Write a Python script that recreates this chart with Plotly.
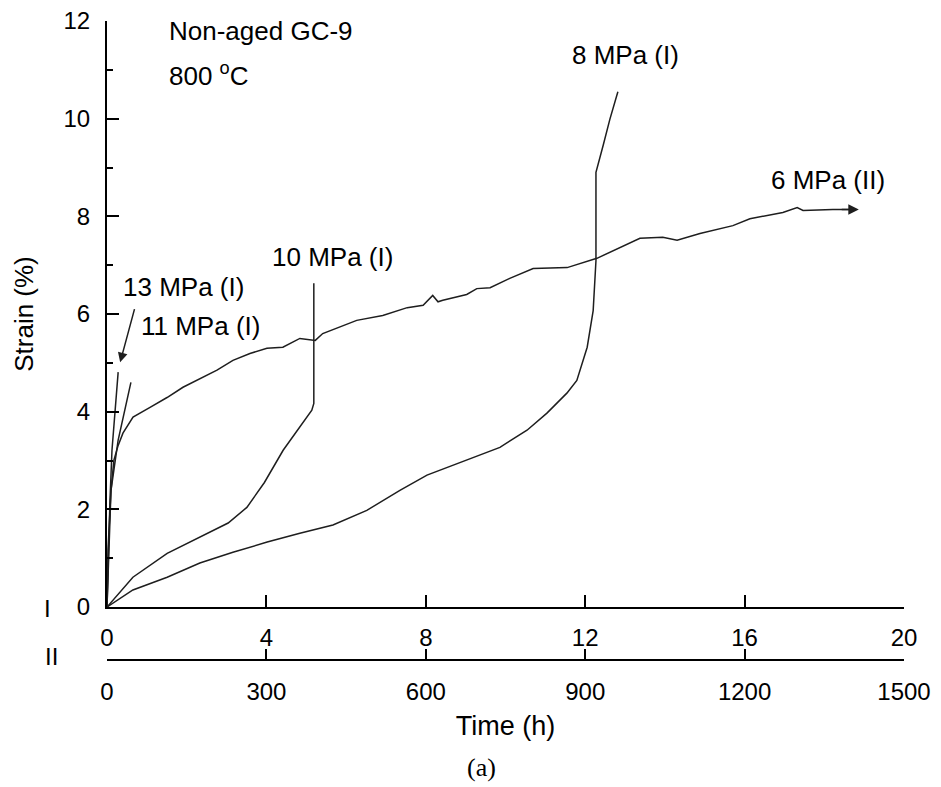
import plotly.graph_objects as go

# ---- data ----
# 6 MPa, time on scale II (h)
t6 = [0, 3.8, 7.5, 13, 21, 30, 49, 81, 113, 143, 175, 207, 237, 269, 301, 331, 363, 380, 392, 406,
      438, 470, 519, 565, 595, 613, 623, 632, 677, 696, 721, 758, 802, 866, 922, 960, 1003, 1046,
      1073, 1116, 1154, 1178, 1210, 1272, 1299, 1310, 1366, 1400]
s6 = [0, 1.37, 2.39, 3.01, 3.31, 3.56, 3.89, 4.09, 4.29, 4.50, 4.68, 4.85, 5.05, 5.19, 5.30, 5.32, 5.50, 5.47, 5.46, 5.60,
      5.73, 5.87, 5.97, 6.13, 6.18, 6.38, 6.25, 6.28, 6.40, 6.52, 6.54, 6.73, 6.93, 6.95, 7.14, 7.34, 7.55, 7.57,
      7.51, 7.65, 7.75, 7.81, 7.95, 8.08, 8.18, 8.12, 8.14, 8.14]

# 8 MPa, time on scale I (h)
t8 = [0, 0.65, 1.51, 2.33, 3.16, 4.02, 4.84, 5.67, 6.52, 7.35, 8.03, 9.03, 9.86, 10.54, 11.04, 11.54,
      11.79, 12.05, 12.20, 12.27, 12.27, 12.45, 12.62, 12.82]
s8 = [0, 0.35, 0.61, 0.90, 1.12, 1.33, 1.51, 1.68, 1.98, 2.39, 2.70, 3.01, 3.27, 3.62, 3.97, 4.38,
      4.64, 5.32, 6.07, 7.09, 8.90, 9.45, 9.99, 10.55]

# 10 MPa, scale I
t10 = [0, 0.65, 1.51, 2.33, 3.04, 3.51, 3.95, 4.42, 4.84, 5.14, 5.19, 5.19]
s10 = [0, 0.61, 1.10, 1.43, 1.72, 2.04, 2.55, 3.21, 3.68, 4.03, 4.17, 6.63]

# 11 MPa, scale I
t11 = [0, 0.025, 0.10, 0.20, 0.28, 0.60]
s11 = [0, 1.17, 2.39, 3.01, 3.42, 4.60]

# 13 MPa, scale I
t13 = [0, 0.025, 0.075, 0.125, 0.28]
s13 = [0, 0.96, 2.19, 3.21, 4.81]

ticks_I = [0, 4, 8, 12, 16, 20]
ticks_II = [0, 300, 600, 900, 1200, 1500]

FONT = "Liberation Sans, Arial, sans-serif"
LC = "#1e1e1e"

fig = go.Figure()
line = dict(color=LC, width=1.5)
fig.add_trace(go.Scatter(x=t6, y=s6, mode="lines", line=line, xaxis="x2", yaxis="y"))
for tx, sy in [(t8, s8), (t10, s10), (t11, s11), (t13, s13)]:
    fig.add_trace(go.Scatter(x=tx, y=sy, mode="lines", line=line, xaxis="x", yaxis="y"))

ann = []
def label(txt, x, y, size=26, xref="x", yref="y"):
    ann.append(dict(text=txt, x=x, y=y, xref=xref, yref=yref, showarrow=False,
                    xanchor="left", yanchor="middle", font=dict(family=FONT, size=size, color="black")))

label("Non-aged GC-9", 1.50, 11.80)
label("800 <sup>o</sup>C", 1.50, 10.90)
label("8 MPa (I)", 11.62, 11.30)
label("6 MPa (II)", 16.60, 8.75)
label("10 MPa (I)", 4.10, 7.16)
label("13 MPa (I)", 0.34, 6.56)
label("11 MPa (I)", 0.80, 5.75)

# arrows
ann.append(dict(x=0.33, y=5.01, ax=0.70, ay=6.13, xref="x", yref="y", axref="x", ayref="y",
                text="", showarrow=True, arrowhead=2, arrowsize=1.3, arrowwidth=1.5, arrowcolor=LC))
ann.append(dict(x=1415, y=8.14, ax=1380, ay=8.14, xref="x2", yref="y", axref="x2", ayref="y",
                text="", showarrow=True, arrowhead=2, arrowsize=1.4, arrowwidth=1.5, arrowcolor=LC))

# axis set labels
ann.append(dict(text="I", x=-0.075, y=0.081, xref="paper", yref="paper", showarrow=False,
                xanchor="center", yanchor="middle", font=dict(family=FONT, size=24, color="black")))
ann.append(dict(text="II", x=-0.070, y=0.005, xref="paper", yref="paper", showarrow=False,
                xanchor="center", yanchor="middle", font=dict(family=FONT, size=24, color="black")))
# caption
ann.append(dict(text="(a)", x=0.4705, y=-0.169, xref="paper", yref="paper", showarrow=False,
                xanchor="center", yanchor="middle",
                font=dict(family="Liberation Serif, Times New Roman, serif", size=26, color="black")))

axis_common = dict(showline=True, linewidth=2, linecolor="black", ticks="inside", tickwidth=2,
                   tickcolor="black", showgrid=False, zeroline=False, ticklabeloverflow="allow",
                   automargin=False, tickfont=dict(family=FONT, size=24, color="black"))

# page body has an 8px margin, so the plot margins are shifted by 8px
fig.update_layout(
    width=941, height=787,
    margin=dict(l=99, r=45, t=13, b=135),
    paper_bgcolor="white", plot_bgcolor="white",
    showlegend=False,
    annotations=ann,
    xaxis=dict(range=[0, 20], tickvals=ticks_I, ticklen=12, anchor="y", ticklabelstandoff=8,
               **axis_common),
    xaxis2=dict(range=[0, 1500], tickvals=ticks_II, ticklen=10, overlaying="x", anchor="free",
                position=0, side="bottom", ticklabelstandoff=10,
                title=dict(text="Time (h)", font=dict(family=FONT, size=27, color="black"), standoff=11),
                **axis_common),
    yaxis=dict(range=[0, 12], domain=[0.0829, 1], tick0=0, dtick=2, ticklen=12, ticklabelstandoff=10,
               minor=dict(ticks="inside", dtick=1, ticklen=6, tickwidth=2, tickcolor="black"),
               title=dict(text="Strain (%)", font=dict(family=FONT, size=26, color="black"), standoff=22),
               **axis_common),
)

fig.write_html("out.html")
